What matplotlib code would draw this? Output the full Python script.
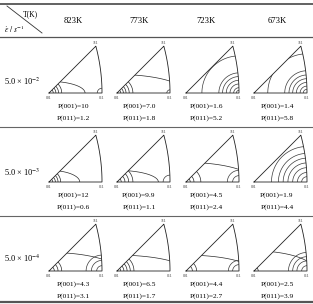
import numpy as np
import matplotlib
matplotlib.use("Agg")
import matplotlib.pyplot as plt
from matplotlib.patches import Polygon

plt.rcParams["font.family"] = ["Liberation Serif", "DejaVu Serif"]
plt.rcParams["mathtext.fontset"] = "stix"

# ---- table content ----
temps = ["823K", "773K", "723K", "673K"]
rates = [r"5.0 × 10$^{-2}$", r"5.0 × 10$^{-3}$", r"5.0 × 10$^{-4}$"]
p001 = [["10", "7.0", "1.6", "1.4"],
        ["12", "9.9", "4.5", "1.9"],
        ["4.3", "6.5", "4.4", "2.5"]]
p011 = [["1.2", "1.8", "5.2", "5.8"],
        ["0.6", "1.1", "2.4", "4.4"],
        ["3.1", "1.7", "2.7", "3.9"]]

# contour levels
# around <001>: (a, b) half axes, in units of the 001-011 edge
lev001 = [
    [[(0.08, 0.08), (0.13, 0.13), (0.18, 0.18), (0.24, 0.24), (0.68, 0.22)],
     [(0.07, 0.07), (0.12, 0.12), (0.17, 0.17), (0.23, 0.23), (0.30, 0.30), (1.30, 0.35)],
     [],
     []],
    [[(0.07, 0.07), (0.12, 0.12), (0.17, 0.17), (0.22, 0.22), (0.58, 0.22)],
     [(0.08, 0.08), (0.15, 0.15), (0.22, 0.22), (0.30, 0.30), (0.78, 0.22)],
     [(0.08, 0.08), (0.15, 0.15), (0.28, 0.28), (1.30, 0.37)],
     []],
    [[(0.10, 0.10), (0.17, 0.17), (0.24, 0.24), (1.30, 0.35)],
     [(0.07, 0.07), (0.13, 0.13), (0.19, 0.19), (0.25, 0.25), (0.32, 0.32), (1.30, 0.30)],
     [(0.12, 0.12), (0.20, 0.20), (1.25, 0.30)],
     [(0.08, 0.08), (1.15, 0.38)]],
]
# around <011>: radii
lev011 = [
    [[0.09], [0.06], [0.70, 0.38, 0.31, 0.24, 0.17, 0.10, 0.05],
     [0.74, 0.42, 0.34, 0.27, 0.20, 0.13, 0.07]],
    [[], [0.13], [0.12, 0.22], [0.67, 0.54, 0.45, 0.36, 0.27, 0.18, 0.10]],
    [[0.10, 0.20, 0.30], [], [0.12, 0.20], [0.10, 0.19, 0.27, 0.35]],
]

# ---- layout (pixels) ----
W, H = 313, 304
col_x = [73, 139, 206, 277]
tri_x0 = [49, 117, 186, 254]
row_base = [93, 182, 271]
row_lab_y = [81, 172, 258]
tri_w = 53

t = np.tan(np.pi / 8)
k = (np.sqrt(3) - 1) / 2 / t        # 111 pole, scaled so that 011 sits at x=1
cx, rr = -1 / t, np.sqrt(2) / t    # great circle 011-111
phi = np.linspace(0, np.arctan2(k, k - cx), 60)
arc_x, arc_y = cx + rr * np.cos(phi), rr * np.sin(phi)
tri = np.vstack([[0, 0], np.column_stack([arc_x, arc_y]), [0, 0]])


def draw_ipf(ax, e001, e011):
    ax.set_xlim(0, 1)
    ax.set_ylim(0, k)
    ax.axis("off")
    clip = Polygon(tri, closed=True, transform=ax.transData, fc="none", ec="none")
    ax.add_patch(clip)
    ang = np.linspace(0, np.pi, 120)
    for a, b in e001:
        ln, = ax.plot(a * np.cos(ang), b * np.sin(ang), color="#2a2a2a", lw=0.5)
        ln.set_clip_path(clip)
    for r in e011:
        ln, = ax.plot(1 + r * np.cos(ang), r * np.sin(ang), color="#3a3a3a", lw=0.5)
        ln.set_clip_path(clip)
    ax.plot(tri[:, 0], tri[:, 1], color="#222222", lw=0.6, clip_on=False)
    ax.text(0, -0.05, "001", fontsize=2.8, ha="center", va="top", color="#333333")
    ax.text(1, -0.05, "011", fontsize=2.8, ha="center", va="top", color="#333333")
    ax.text(k, k + 0.03, "111", fontsize=2.8, ha="center", va="bottom", color="#333333")


fig = plt.figure(figsize=(W / 100, H / 100), dpi=100)
ax = fig.add_axes([0, 0, 1, 1])
ax.set_xlim(0, W)
ax.set_ylim(H, 0)
ax.axis("off")

# rules
ax.plot([0, W], [3.5, 3.5], color="#555555", lw=1.3)
ax.plot([0, W], [37, 37], color="#555555", lw=0.9)
ax.plot([0, W], [127, 127], color="#666666", lw=0.8)
ax.plot([0, W], [216, 216], color="#666666", lw=0.8)
ax.plot([0, W], [301.5, 301.5], color="#555555", lw=1.6)
ax.plot([7, 42], [6, 33], color="#333333", lw=0.6)

ax.text(30, 14.5, "T(K)", fontsize=5.5, ha="center", va="center")
ax.text(14, 29, r"$\dot{\varepsilon}\ /\ s^{-1}$", fontsize=5.5, ha="center", va="center")

for j, lab in enumerate(temps):
    ax.text(col_x[j], 21, lab, fontsize=6.2, ha="center", va="center")

for i in range(3):
    ax.text(22, row_lab_y[i], rates[i], fontsize=6, ha="center", va="center")
    for j in range(4):
        x0, yb = tri_x0[j], row_base[i]
        h = tri_w * k
        tax = fig.add_axes([x0 / W, (H - yb) / H, tri_w / W, h / H])
        draw_ipf(tax, lev001[i][j], lev011[i][j])
        ax.text(col_x[j], yb + 13.5, f"P(001)={p001[i][j]}", fontsize=5.3,
                ha="center", va="center")
        ax.text(col_x[j], yb + 25.5, f"P(011)={p011[i][j]}", fontsize=5.3,
                ha="center", va="center")

fig.savefig("out.png", dpi=100)
